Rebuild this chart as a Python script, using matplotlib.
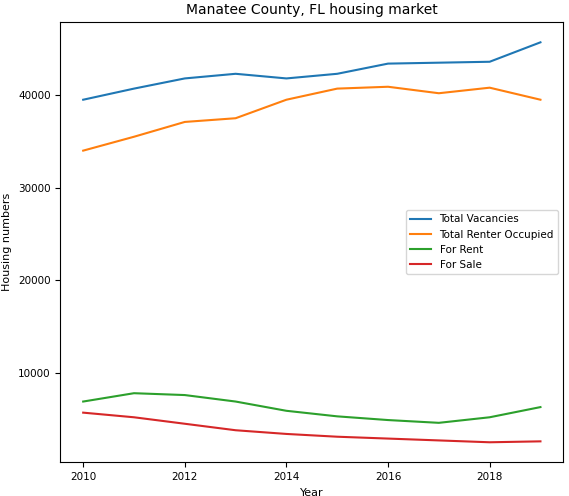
import matplotlib.pyplot as plt

years = list(range(2010, 2020))
total_vacancies = [39500, 40700, 41800, 42300, 41800, 42300, 43400, 43500, 43600, 45700]
total_renter = [34000, 35500, 37100, 37500, 39500, 40700, 40900, 40200, 40800, 39500]
for_rent = [6900, 7800, 7600, 6900, 5900, 5300, 4900, 4600, 5200, 6300]
for_sale = [5700, 5200, 4500, 3800, 3400, 3100, 2900, 2700, 2500, 2600]

fig, ax = plt.subplots(figsize=(5.69, 4.96), dpi=100)
fig.subplots_adjust(left=0.106, right=0.99, top=0.955, bottom=0.068)
ax.plot(years, total_vacancies, label='Total Vacancies')
ax.plot(years, total_renter, label='Total Renter Occupied')
ax.plot(years, for_rent, label='For Rent')
ax.plot(years, for_sale, label='For Sale')
ax.set_title('Manatee County, FL housing market', fontsize=10)
ax.set_xlabel('Year', fontsize=8)
ax.set_ylabel('Housing numbers', fontsize=8)
ax.tick_params(labelsize=7.5)
ax.legend(loc='center right', fontsize=7.5)
plt.savefig('out.png', dpi=100)
